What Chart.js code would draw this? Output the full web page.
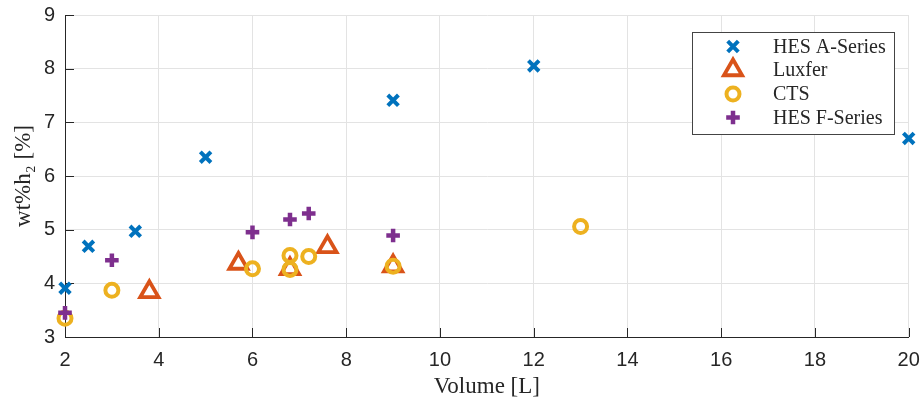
<!DOCTYPE html>
<html lang="en">
<head>
    <meta charset="UTF-8">
    <script src="https://cdn.jsdelivr.net/npm/chart.js"></script>
    <title>wt%h2 vs Volume</title>
    <style>
        html, body { margin: 0; padding: 0; background: #fff; }
        #wrap { width: 923px; height: 401px; }
    </style>
</head>
<body>
    <div id="wrap"><canvas id="tankChart" width="923" height="401"></canvas></div>

    <script>
        // tank volume [L] and hydrogen weight fraction [%] per product line
        const hesAVolume = [2, 2.5, 3.5, 5, 9, 12, 20];
        const hesAWt     = [3.91, 4.69, 4.97, 6.35, 7.41, 8.05, 6.70];

        const luxferVolume = [3.8, 5.7, 6.8, 7.6, 9];
        const luxferWt     = [3.84, 4.37, 4.27, 4.68, 4.32];

        const ctsVolume = [2, 3, 6, 6.8, 6.8, 7.2, 9, 13];
        const ctsWt     = [3.35, 3.87, 4.27, 4.52, 4.26, 4.50, 4.32, 5.06];

        const hesFVolume = [2, 3, 6, 6.8, 7.2, 9];
        const hesFWt     = [3.45, 4.43, 4.95, 5.19, 5.30, 4.89];

        const xTicks = [2, 4, 6, 8, 10, 12, 14, 16, 18, 20];
        const yTicks = [3, 4, 5, 6, 7, 8, 9];

        const toPoints = (xs, ys) => xs.map((x, i) => ({ x: x, y: ys[i] }));

        const axisColor = '#262626';
        const gridColor = '#e3e3e3';
        const serif = '"Liberation Serif", "DejaVu Serif", serif';
        const sans = '"Liberation Sans", Arial, sans-serif';

        const series = [
            { label: 'HES A-Series', data: toPoints(hesAVolume, hesAWt), color: '#0072BD', style: 'crossRot', radius: 7.5, width: 4, order: 4 },
            { label: 'Luxfer', data: toPoints(luxferVolume, luxferWt), color: '#D95319', style: 'triangle', radius: 10.5, width: 3.8, order: 3 },
            { label: 'CTS', data: toPoints(ctsVolume, ctsWt), color: '#EDB120', style: 'circle', radius: 6.5, width: 4, order: 2 },
            { label: 'HES F-Series', data: toPoints(hesFVolume, hesFWt), color: '#7E2F8E', style: 'cross', radius: 6.8, width: 4.5, order: 1 }
        ];

        // inward tick marks like the original plotting tool
        const innerTicks = {
            id: 'innerTicks',
            beforeDatasetsDraw(chart) {
                const ctx = chart.ctx;
                const a = chart.chartArea;
                const xs = chart.scales.x, ys = chart.scales.y;
                ctx.save();
                ctx.strokeStyle = axisColor;
                ctx.lineWidth = 1;
                ctx.beginPath();
                xTicks.forEach(v => {
                    const px = Math.round(xs.getPixelForValue(v)) + 0.5;
                    ctx.moveTo(px, a.bottom);
                    ctx.lineTo(px, a.bottom - 9);
                });
                yTicks.forEach(v => {
                    const py = Math.round(ys.getPixelForValue(v)) + 0.5;
                    ctx.moveTo(a.left, py);
                    ctx.lineTo(a.left + 9, py);
                });
                ctx.stroke();
                ctx.restore();
            }
        };

        // boxed legend inside the plot, upper right
        const boxLegend = {
            id: 'boxLegend',
            afterDraw(chart) {
                const ctx = chart.ctx;
                const bx = 692.5, by = 32.5, bw = 202, bh = 102;
                ctx.save();
                ctx.fillStyle = '#ffffff';
                ctx.fillRect(bx, by, bw, bh);
                ctx.strokeStyle = '#444444';
                ctx.lineWidth = 1;
                ctx.strokeRect(bx, by, bw, bh);

                const rows = [46.5, 70, 94, 117.5];
                series.forEach((s, i) => {
                    ctx.save();
                    ctx.strokeStyle = s.color;
                    ctx.fillStyle = 'rgba(0,0,0,0)';
                    ctx.lineWidth = s.width;
                    Chart.helpers.drawPoint(ctx, {
                        pointStyle: s.style, radius: s.radius, borderWidth: s.width, rotation: 0
                    }, 733, rows[i]);
                    ctx.restore();
                    ctx.fillStyle = axisColor;
                    ctx.font = '20px ' + serif;
                    ctx.textBaseline = 'middle';
                    ctx.textAlign = 'left';
                    ctx.fillText(s.label, 773, rows[i] + 1);
                });
                ctx.restore();
            }
        };

        const ctx = document.getElementById('tankChart').getContext('2d');
        new Chart(ctx, {
            type: 'scatter',
            data: {
                datasets: series.map(s => ({
                    label: s.label,
                    data: s.data,
                    order: s.order,
                    pointStyle: s.style,
                    pointRadius: s.radius,
                    pointHoverRadius: s.radius,
                    pointBorderWidth: s.width,
                    borderColor: s.color,
                    backgroundColor: 'rgba(0,0,0,0)',
                    clip: false
                }))
            },
            options: {
                responsive: false,
                animation: false,
                layout: { padding: { top: 15, right: 12, left: 0, bottom: 0 } },
                plugins: {
                    legend: { display: false },
                    tooltip: { enabled: false }
                },
                scales: {
                    x: {
                        type: 'linear',
                        min: 2,
                        max: 20,
                        afterBuildTicks: scale => { scale.ticks = xTicks.map(v => ({ value: v })); },
                        afterFit: scale => {
                            scale.height = 64;
                            scale.paddingLeft = 0;
                            scale.paddingRight = 0;
                        },
                        grid: { color: gridColor, drawTicks: false },
                        border: { color: axisColor, width: 1 },
                        ticks: { color: axisColor, font: { family: sans, size: 20 }, padding: 11, maxRotation: 0 },
                        title: {
                            display: true,
                            text: 'Volume [L]',
                            color: axisColor,
                            font: { family: serif, size: 23 },
                            padding: { top: 0, bottom: 0 }
                        }
                    },
                    y: {
                        type: 'linear',
                        min: 3,
                        max: 9,
                        afterBuildTicks: scale => { scale.ticks = yTicks.map(v => ({ value: v })); },
                        afterFit: scale => {
                            scale.width = 65;
                            scale.paddingTop = 0;
                            scale.paddingBottom = 0;
                        },
                        grid: { color: gridColor, drawTicks: false },
                        border: { color: axisColor, width: 1 },
                        ticks: { color: axisColor, font: { family: sans, size: 20 }, padding: 10 },
                        title: {
                            display: true,
                            text: 'wt%h₂ [%]',
                            color: axisColor,
                            font: { family: serif, size: 23 },
                            padding: { top: 10, bottom: 0 }
                        }
                    }
                }
            },
            plugins: [innerTicks, boxLegend]
        });
    </script>
</body>
</html>
